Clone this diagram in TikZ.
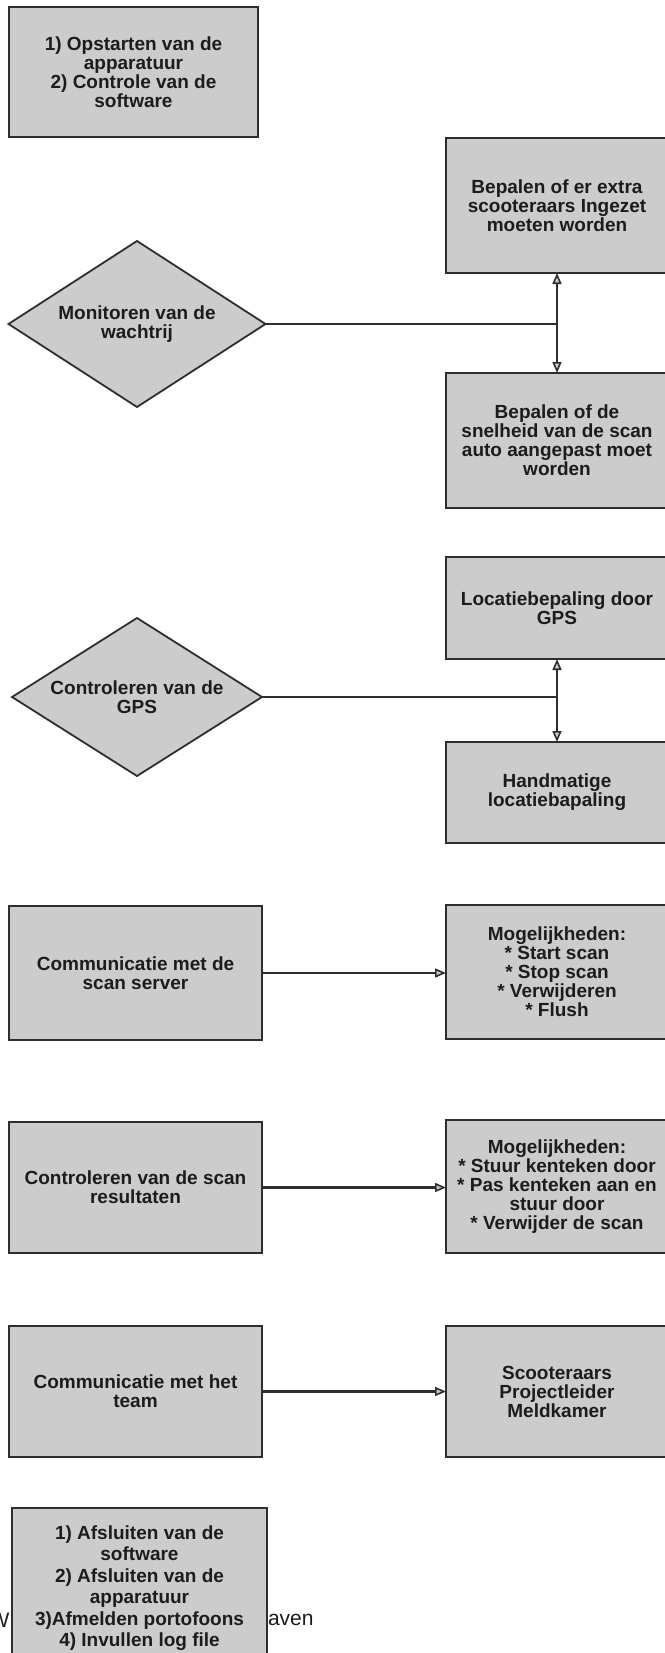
\documentclass[tikz,border=0pt]{standalone}
\usepackage{fontspec}
\setmainfont{Liberation Sans}
\usetikzlibrary{shapes.geometric,arrows.meta,calc}
\definecolor{edge}{HTML}{2E2E2E}
\definecolor{shade}{HTML}{CCCCCC}
\definecolor{ink}{HTML}{1C1C1C}
\begin{document}
\begin{tikzpicture}[x=1pt,y=-1pt,
  every node/.style={inner sep=0pt, outer sep=0pt},
  txt/.style={font=\bfseries\fontsize{19}{19}\selectfont, text=ink, align=center},
  box/.style={txt, draw=edge, fill=shade, line width=1.8pt, rectangle},
  lbox/.style={box, minimum width=253pt},
  rbox/.style={box, minimum width=222pt},
  decision/.style={txt, draw=edge, fill=shade, line width=1.8pt, diamond, shape aspect=1.55},
  link/.style={draw=edge, line width=2.3pt},
  tip/.style={link, -{Triangle[length=11pt,width=9pt,fill=shade,line width=1.6pt]}},
  loose/.style={font=\fontsize{21}{24}\selectfont, text=ink}
]
\useasboundingbox (0,0) rectangle (664,1653);

% start-up checklist
\node[box, minimum width=249pt, minimum height=130pt] (start) at (133.5,72)
  {1) Opstarten van de\\apparatuur\\2) Controle van de\\software};

% queue monitoring
\node[decision, minimum width=257pt, minimum height=166pt] (d1) at (137,324)
  {Monitoren van de\\wachtrij};
\node[rbox, minimum height=135pt] (b1) at (557,205.5)
  {Bepalen of er extra\\scooteraars Ingezet\\moeten worden};
\node[rbox, minimum height=135pt] (b2) at (557,440.5)
  {Bepalen of de\\snelheid van de scan\\auto aangepast moet\\worden};
\draw[link] (d1.east) -- (d1.east -| b1.south) coordinate (j1);
\draw[tip] (j1) -- (b1.south);
\draw[tip] (j1) -- (b2.north);

% GPS check
\node[decision, minimum width=250pt, minimum height=158pt] (d2) at (137,697)
  {Controleren van de\\GPS};
\node[rbox, minimum height=102pt] (b3) at (557,608)
  {Locatiebepaling door\\GPS};
\node[rbox, minimum height=101pt] (b4) at (557,792.5)
  {Handmatige\\locatiebapaling};
\draw[link] (d2.east) -- (d2.east -| b3.south) coordinate (j2);
\draw[tip] (j2) -- (b3.south);
\draw[tip] (j2) -- (b4.north);

% scan server
\node[lbox, minimum height=134pt] (c1) at (135.5,973)
  {Communicatie met de\\scan server};
\node[rbox, minimum height=134pt] (r1) at (557,972)
  {Mogelijkheden:\\* Start scan\\* Stop scan\\* Verwijderen\\* Flush};
\draw[tip] (c1.east) -- (c1.east -| r1.west);

% scan results
\node[lbox, minimum height=131pt] (c2) at (135.5,1187.5)
  {Controleren van de scan\\resultaten};
\node[rbox, minimum height=133pt] (r2) at (557,1186.5)
  {Mogelijkheden:\\* Stuur kenteken door\\* Pas kenteken aan en\\stuur door\\* Verwijder de scan};
\draw[tip] (c2.east) -- (c2.east -| r2.west);

% team communication
\node[lbox, minimum height=131pt] (c3) at (135.5,1391.5)
  {Communicatie met het\\team};
\node[rbox, minimum height=131pt] (r3) at (557,1391.5)
  {Scooteraars\\Projectleider\\Meldkamer};
\draw[tip] (c3.east) -- (c3.east -| r3.west);

% loose text partly hidden behind the closing box
\node[loose, anchor=east] (wpart) at (9.5,1620) {W};
\node[loose, anchor=west] (avenpart) at (268,1620) {aven};

% shut-down checklist
\node[box, font=\bfseries\fontsize{19}{21.5}\selectfont, minimum width=255pt, minimum height=160pt] (stop) at (139.5,1588)
  {1) Afsluiten van de\\software\\2) Afsluiten van de\\apparatuur\\3)Afmelden portofoons\\4) Invullen log file};
\end{tikzpicture}
\end{document}
